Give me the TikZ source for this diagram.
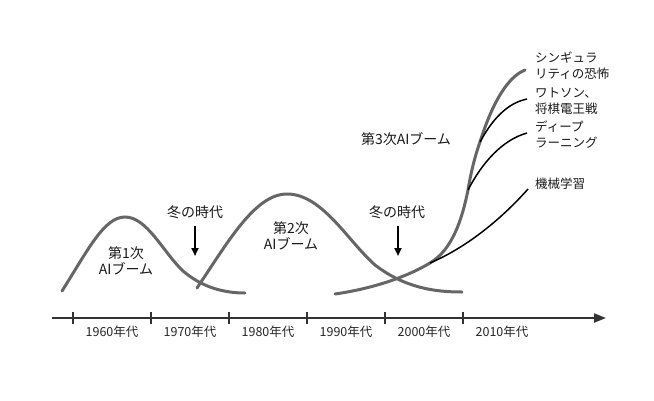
\documentclass[tikz,border=0pt]{standalone}
\usepackage{fontspec}
\setmainfont{Noto Sans CJK JP}
\usetikzlibrary{arrows.meta}
\begin{document}
\begin{tikzpicture}[x=1pt,y=-1pt,
  boom/.style={draw=black!60,line width=3pt,line cap=round},
  branch/.style={draw=black,line width=1.5pt},
  axisline/.style={draw=black!80,line width=2pt},
  tickmark/.style={draw=black!80,line width=2pt},
  biglabel/.style={font=\fontsize{14}{16}\selectfont,text=black!90,align=center,inner sep=0pt},
  smalllabel/.style={font=\fontsize{12.5}{16}\selectfont,text=black!90,align=left,inner sep=0pt,anchor=west},
  decade/.style={font=\fontsize{12.5}{14}\selectfont,text=black!85,inner sep=0pt},
  winter/.style={draw=black,line width=2pt,-{Triangle[length=8pt,width=7pt]}}]
\useasboundingbox (0,0) rectangle (654,400);

% time axis
\coordinate (ax0) at (52,318);
\coordinate (ax1) at (606,318);
\draw[axisline,-{Triangle[length=12pt,width=9pt]}] (ax0) -- (ax1);
\foreach \x in {73,151,229,307,385,463}{
  \draw[tickmark] (\x,312) -- (\x,324);
}
\node[decade] (d60) at (112,332) {1960年代};
\node[decade] (d70) at (190,332) {1970年代};
\node[decade] (d80) at (268,332) {1980年代};
\node[decade] (d90) at (346,332) {1990年代};
\node[decade] (d00) at (424,332) {2000年代};
\node[decade] (d10) at (502,332) {2010年代};

% first boom
\draw[boom] (62,291) .. controls (88,250) and (104,217) .. (125,217)
  .. controls (147,217) and (163,252) .. (183,271)
  .. controls (203,288) and (225,293) .. (245,293);
\node[biglabel] (b1) at (126,261) {第1次\\AIブーム};

% second boom
\draw[boom] (197,288) .. controls (228,242) and (255,194) .. (287,194)
  .. controls (322,194) and (347,240) .. (375,265)
  .. controls (405,288) and (435,292) .. (462,292);
\node[biglabel] (b2) at (291,236) {第2次\\AIブーム};

% third boom
\coordinate (p1) at (430,263);
\coordinate (p2) at (468,190);
\coordinate (p3) at (480,142);
\coordinate (top) at (525,70);
\draw[boom] (335,294) .. controls (370,289) and (405,278) .. (p1)
  .. controls (452,250) and (462,220) .. (p2)
  .. controls (471,172) and (475,156) .. (p3)
  .. controls (490,110) and (505,78) .. (top);
\node[biglabel] (b3) at (406,139) {第3次AIブーム};

% branches
\coordinate (e1) at (528,189);
\coordinate (e2) at (527,133);
\coordinate (e3) at (527,99);
\draw[branch] (p1) .. controls (470,246) and (505,215) .. (e1);
\draw[branch] (p2) .. controls (482,163) and (502,140) .. (e2);
\draw[branch] (p3) .. controls (493,118) and (508,103) .. (e3);

\node[smalllabel] (l1) at (535,66) {シンギュラ\\リティの恐怖};
\node[smalllabel] (l2) at (535,101) {ワトソン、\\将棋電王戦};
\node[smalllabel] (l3) at (535,135) {ディープ\\ラーニング};
\node[smalllabel] (l4) at (535,184) {機械学習};

% winters
\node[biglabel] (w1) at (195,212) {冬の時代};
\coordinate (w1a) at (195,226);
\coordinate (w1b) at (195,256);
\draw[winter] (w1a) -- (w1b);
\node[biglabel] (w2) at (397,212) {冬の時代};
\coordinate (w2a) at (398,226);
\coordinate (w2b) at (398,256);
\draw[winter] (w2a) -- (w2b);
\end{tikzpicture}
\end{document}
